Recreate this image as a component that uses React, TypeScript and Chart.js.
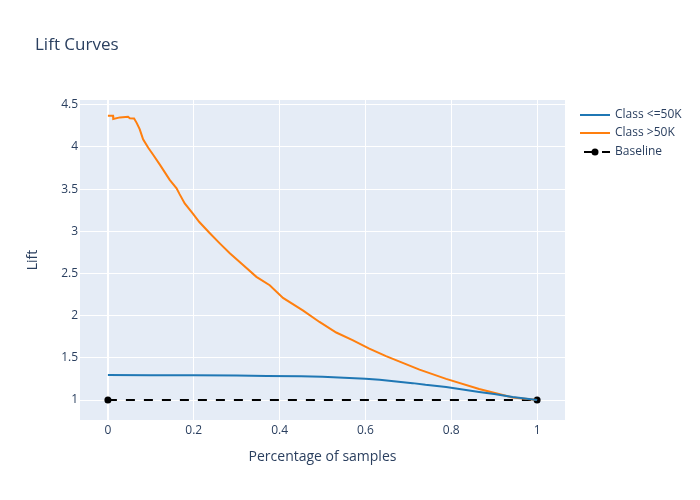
import React, { useEffect, useRef } from "react";
import { Chart, registerables } from "chart.js";

Chart.register(...registerables);

const chartTitle = "Lift Curves";
const xAxisTitle = "Percentage of samples";
const yAxisTitle = "Lift";
const seriesNames = ["Class <=50K", "Class >50K", "Baseline"];
const seriesColors = ["#1f77b4", "#ff7f0e", "#000000"];

const xTicks = [0, 0.2, 0.4, 0.6, 0.8, 1];
const yTicks = [1, 1.5, 2, 2.5, 3, 3.5, 4, 4.5];

const blueX = [0, 0.1, 0.2, 0.3, 0.37, 0.45, 0.5, 0.55, 0.6, 0.633, 0.71, 0.74, 0.788, 0.865, 0.9, 0.943, 1.0];
const blueY = [1.295, 1.294, 1.292, 1.29, 1.286, 1.282, 1.275, 1.265, 1.252, 1.24, 1.2, 1.18, 1.155, 1.095, 1.07, 1.035, 1.0];

const orangeX = [0, 0.012, 0.0125, 0.028, 0.047, 0.051, 0.061, 0.067, 0.074, 0.082, 0.094, 0.105, 0.121, 0.144, 0.16, 0.167, 0.179, 0.198, 0.213, 0.237, 0.26, 0.284, 0.315, 0.346, 0.377, 0.408, 0.455, 0.493, 0.532, 0.57, 0.609, 0.648, 0.687, 0.726, 0.788, 0.865, 0.943, 1.0];
const orangeY = [4.37, 4.37, 4.33, 4.35, 4.357, 4.34, 4.337, 4.285, 4.21, 4.09, 3.99, 3.91, 3.79, 3.61, 3.51, 3.44, 3.33, 3.21, 3.11, 2.98, 2.86, 2.74, 2.6, 2.46, 2.36, 2.21, 2.06, 1.925, 1.8, 1.71, 1.61, 1.52, 1.44, 1.36, 1.25, 1.13, 1.03, 1.0];

const baselineX = [0, 1];
const baselineY = [1, 1];

const FONT = "'Open Sans', 'Noto Sans', sans-serif";
const TEXT = "#2a3f5f";

const zip = (xs: number[], ys: number[]) => xs.map((x, i) => ({ x, y: ys[i] }));

const decorPlugin = {
  id: "decor",
  beforeDraw(chart: any) {
    const { ctx, chartArea } = chart;
    ctx.save();
    ctx.fillStyle = "#ffffff";
    ctx.fillRect(0, 0, chart.width, chart.height);
    ctx.fillStyle = "#e5ecf6";
    ctx.fillRect(chartArea.left, chartArea.top, chartArea.right - chartArea.left, chartArea.bottom - chartArea.top);
    ctx.restore();
  },
  afterDraw(chart: any) {
    const { ctx, chartArea } = chart;
    ctx.save();
    ctx.fillStyle = TEXT;
    ctx.textBaseline = "middle";
    ctx.font = `17px ${FONT}`;
    ctx.textAlign = "left";
    ctx.fillText(chartTitle, 35, 45);

    ctx.font = `14px ${FONT}`;
    ctx.textAlign = "center";
    ctx.fillText(xAxisTitle, (chartArea.left + chartArea.right) / 2, 457);
    ctx.save();
    ctx.translate(33, (chartArea.top + chartArea.bottom) / 2);
    ctx.rotate(-Math.PI / 2);
    ctx.fillText(yAxisTitle, 0, 0);
    ctx.restore();

    // legend
    const legendY = [115, 133, 152];
    ctx.font = `12px ${FONT}`;
    ctx.textAlign = "left";
    seriesNames.forEach((name, i) => {
      const y = legendY[i];
      ctx.strokeStyle = seriesColors[i];
      ctx.lineWidth = 2;
      ctx.setLineDash(i === 2 ? [9, 9] : []);
      ctx.lineDashOffset = i === 2 ? -4 : 0;
      ctx.beginPath();
      ctx.moveTo(580, y);
      ctx.lineTo(610, y);
      ctx.stroke();
      ctx.setLineDash([]);
      if (i === 2) {
        ctx.fillStyle = "#000000";
        ctx.beginPath();
        ctx.arc(595, y, 3.5, 0, Math.PI * 2);
        ctx.fill();
      }
      ctx.fillStyle = TEXT;
      ctx.fillText(name, 615, y);
    });
    ctx.restore();
  },
};

export default function App() {
  const ref = useRef<HTMLCanvasElement | null>(null);
  useEffect(() => {
    if (!ref.current) return;
    const chart = new Chart(ref.current, {
      type: "line",
      data: {
        datasets: [
          {
            label: seriesNames[0],
            data: zip(blueX, blueY),
            borderColor: seriesColors[0],
            borderWidth: 2,
            pointRadius: 0,
            tension: 0,
          },
          {
            label: seriesNames[1],
            data: zip(orangeX, orangeY),
            borderColor: seriesColors[1],
            borderWidth: 2,
            pointRadius: 0,
            tension: 0,
          },
          {
            label: seriesNames[2],
            data: zip(baselineX, baselineY),
            borderColor: seriesColors[2],
            backgroundColor: seriesColors[2],
            borderWidth: 2,
            borderDash: [9, 9],
            pointRadius: 3.5,
            pointBorderWidth: 0,
            pointBackgroundColor: "#000000",
            tension: 0,
          },
        ],
      },
      options: {
        animation: false,
        responsive: false,
        layout: { padding: { left: 0, top: 100, right: 135, bottom: 0 } },
        plugins: {
          legend: { display: false },
          title: { display: false },
          tooltip: { enabled: false },
        },
        scales: {
          x: {
            type: "linear",
            min: -0.065,
            max: 1.065,
            afterBuildTicks: (s: any) => {
              s.ticks = xTicks.map((v) => ({ value: v }));
            },
            afterFit: (s: any) => {
              s.height = 80;
            },
            ticks: {
              color: TEXT,
              font: { family: FONT, size: 12 },
              padding: 3,
              maxRotation: 0,
              callback: (v: any) => String(Math.round(Number(v) * 10) / 10),
            },
            grid: {
              color: "#ffffff",
              lineWidth: (c: any) => (c.tick && c.tick.value === 0 ? 2 : 1),
              drawTicks: false,
            },
            border: { display: false },
          },
          y: {
            type: "linear",
            min: 0.763,
            max: 4.556,
            afterBuildTicks: (s: any) => {
              s.ticks = yTicks.map((v) => ({ value: v }));
            },
            afterFit: (s: any) => {
              s.width = 80;
            },
            ticks: {
              color: TEXT,
              font: { family: FONT, size: 12 },
              padding: 2,
              callback: (v: any) => String(Math.round(Number(v) * 10) / 10),
            },
            grid: { color: "#ffffff", lineWidth: 1, drawTicks: false },
            border: { display: false },
          },
        },
      },
      plugins: [decorPlugin],
    } as any);
    return () => chart.destroy();
  }, []);
  return (
    <div style={{ position: "fixed", left: 0, top: 0, width: 700, height: 500, background: "#fff" }}>
      <canvas ref={ref} width={700} height={500} style={{ width: 700, height: 500, display: "block" }} />
    </div>
  );
}
